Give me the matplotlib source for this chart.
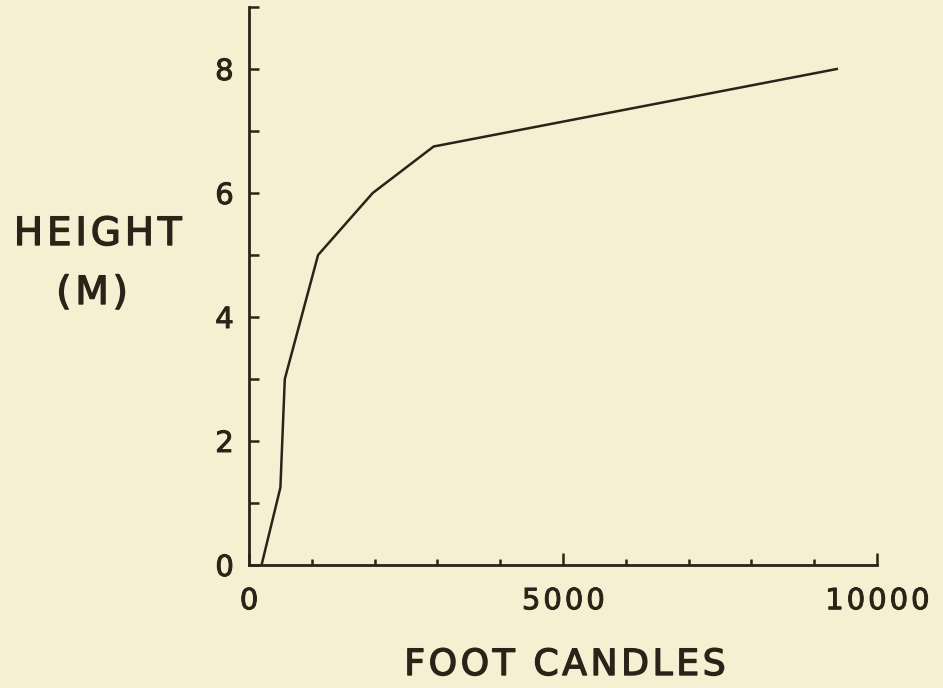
import matplotlib.pyplot as plt
import matplotlib.patheffects as pe
from matplotlib.ticker import MultipleLocator, FixedLocator

# readings
foot_candles = [200, 500, 570, 1100, 1970, 2940, 9360]
height_m = [0, 1.25, 3, 5, 6, 6.75, 8]

x_ticks = [0, 5000, 10000]
x_tick_labels = ["0", "5000", "10000"]
y_ticks = [0, 2, 4, 6, 8]
y_tick_labels = ["0", "2", "4", "6", "8"]

BG = "#f6f0d3"
INK = "#2a2418"
HAIR = "\u200a"


def spaced(s):
    return HAIR.join(s)


W, H = 943, 688
fig = plt.figure(figsize=(W / 100, H / 100), dpi=100, facecolor=BG)
ax = fig.add_axes([249 / W, (H - 565) / H, 628 / W, 558 / H], facecolor=BG)

ax.plot(foot_candles, height_m, color=INK, linewidth=1.8, solid_joinstyle="round")

ax.set_xlim(0, 10000)
ax.set_ylim(0, 9)
for s in ("top", "right"):
    ax.spines[s].set_visible(False)
for s in ("left", "bottom"):
    ax.spines[s].set_linewidth(2.0)
    ax.spines[s].set_color(INK)

ax.xaxis.set_major_locator(FixedLocator(x_ticks))
ax.set_xticklabels([spaced(t) for t in x_tick_labels])
ax.xaxis.set_minor_locator(MultipleLocator(1000))
ax.yaxis.set_major_locator(FixedLocator(y_ticks))
ax.set_yticklabels(y_tick_labels)
ax.yaxis.set_minor_locator(MultipleLocator(1))

ax.tick_params(axis="x", which="major", direction="in", length=9, width=1.8,
               colors=INK, labelsize=21, pad=16)
ax.tick_params(axis="x", which="minor", direction="in", length=4, width=1.8, colors=INK)
ax.tick_params(axis="y", which="both", direction="in", length=7, width=1.8,
               colors=INK, labelsize=21, pad=11)
thick = [pe.withStroke(linewidth=0.7, foreground=INK)]
for lab in ax.get_xticklabels() + ax.get_yticklabels():
    lab.set_path_effects(thick)

label_fx = [pe.withStroke(linewidth=1.0, foreground=INK)]
fig.text(98 / W, 1 - 234 / H, spaced("HEIGHT"), ha="center", va="center",
         fontsize=28, color=INK, path_effects=label_fx)
fig.text(92 / W, 1 - 293 / H, spaced("(M)"), ha="center", va="center",
         fontsize=28, color=INK, path_effects=label_fx)
fig.text(565 / W, 1 - 665 / H, spaced("FOOT CANDLES"), ha="center", va="center",
         fontsize=26, color=INK, path_effects=label_fx)

fig.savefig("out.png", dpi=100, facecolor=BG)
